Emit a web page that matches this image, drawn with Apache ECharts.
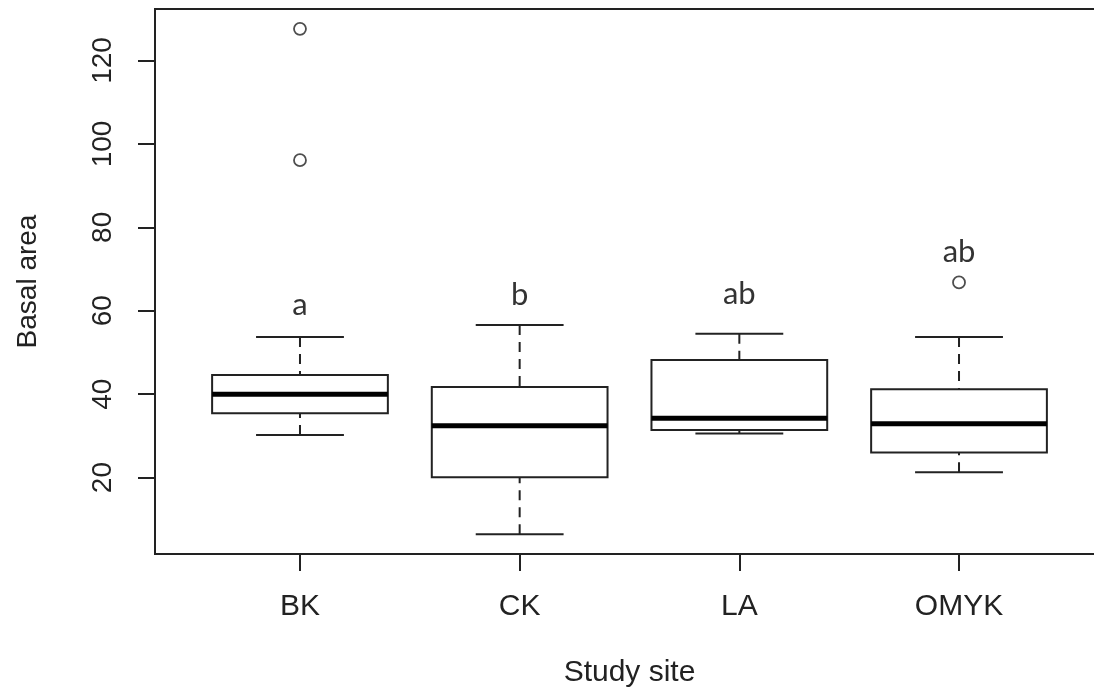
<!DOCTYPE html>
<html>
<head>
<meta charset="utf-8">
<script src="https://cdn.jsdelivr.net/npm/echarts@6/dist/echarts.min.js"></script>
<style>
  html, body { margin: 0; padding: 0; background: #fff; overflow: hidden; }
  #chart { width: 1094px; height: 690px; }
</style>
</head>
<body>
<div id="chart"></div>
<script>
// boxplot stats, one entry per study site
const sites = ['BK', 'CK', 'LA', 'OMYK']
const lowerWhisker = [30.2, 6.4, 30.6, 21.3]
const q1 = [35.4, 20.1, 31.4, 26.0]
const median = [40.0, 32.4, 34.2, 32.9]
const q3 = [44.6, 41.7, 48.2, 41.2]
const upperWhisker = [53.7, 56.6, 54.5, 53.7]
// outliers as [site index (1-based), value]
const outliers = [[1, 127.6], [1, 96.1], [4, 66.8]]
// significance letters and the height they sit at
const letters = ['a', 'b', 'ab', 'ab']
const letterY = [61.4, 63.8, 64.1, 74.1]
const yTicks = [20, 40, 60, 80, 100, 120]

const chart = echarts.init(document.getElementById('chart'))

const boxData = sites.map((s, i) => [i + 1, lowerWhisker[i], q1[i], median[i], q3[i], upperWhisker[i]])
const letterData = sites.map((s, i) => [i + 1, letterY[i], letters[i]])

const ink = '#222'

function renderBox(params, api) {
    const x = api.value(0)
    const lo = api.coord([x, api.value(1)])
    const b1 = api.coord([x, api.value(2)])
    const md = api.coord([x, api.value(3)])
    const b3 = api.coord([x, api.value(4)])
    const hi = api.coord([x, api.value(5)])
    const unit = api.size([1, 0])[0]
    const half = unit * 0.4
    const cap = unit * 0.2
    const cx = lo[0]
    const thin = { stroke: ink, lineWidth: 2, fill: null }
    const dash = { stroke: ink, lineWidth: 2, lineDash: [10, 7] }
    return {
        type: 'group',
        children: [
            // whiskers, drawn from the cap toward the box
            { type: 'line', shape: { x1: cx, y1: hi[1], x2: cx, y2: b3[1] }, style: dash },
            { type: 'line', shape: { x1: cx, y1: lo[1], x2: cx, y2: b1[1] }, style: dash },
            { type: 'line', shape: { x1: cx - cap, y1: hi[1], x2: cx + cap, y2: hi[1] }, style: thin },
            { type: 'line', shape: { x1: cx - cap, y1: lo[1], x2: cx + cap, y2: lo[1] }, style: thin },
            {
                type: 'rect',
                shape: { x: cx - half, y: b3[1], width: half * 2, height: b1[1] - b3[1] },
                style: { stroke: ink, lineWidth: 2, fill: '#fff' }
            },
            { type: 'line', shape: { x1: cx - half, y1: md[1], x2: cx + half, y2: md[1] }, style: { stroke: '#000', lineWidth: 5 } }
        ]
    }
}

chart.setOption({
    animation: false,
    backgroundColor: '#fff',
    grid: {
        left: 155,
        top: 9,
        width: 949,
        bottom: 136,
        outerBoundsMode: 'none',
        show: true,
        borderColor: ink,
        borderWidth: 2,
        backgroundColor: 'transparent'
    },
    xAxis: {
        type: 'value',
        min: 0.34,
        max: 4.66,
        name: 'Study site',
        nameLocation: 'middle',
        nameGap: 104,
        nameTextStyle: { fontFamily: 'Liberation Sans', fontSize: 30, color: ink },
        splitLine: { show: false },
        axisLine: { show: true, lineStyle: { color: ink, width: 2 } },
        axisTick: { show: true, length: 17, customValues: [1, 2, 3, 4], lineStyle: { color: ink, width: 2 } },
        axisLabel: {
            customValues: [1, 2, 3, 4],
            formatter: v => sites[Math.round(v) - 1],
            margin: 38,
            fontFamily: 'Liberation Sans',
            fontSize: 30,
            color: ink
        }
    },
    yAxis: {
        type: 'value',
        min: 1.68,
        max: 132.35,
        name: 'Basal area',
        nameLocation: 'middle',
        nameGap: 113,
        nameTextStyle: { fontFamily: 'Liberation Sans', fontSize: 28, color: ink },
        splitLine: { show: false },
        axisLine: { show: true, lineStyle: { color: ink, width: 2 } },
        axisTick: { show: true, length: 17, customValues: yTicks, lineStyle: { color: ink, width: 2 } },
        axisLabel: {
            customValues: yTicks,
            rotate: 90,
            margin: 38,
            fontFamily: 'Liberation Sans',
            fontSize: 28,
            color: ink
        }
    },
    series: [
        {
            type: 'custom',
            renderItem: renderBox,
            data: boxData,
            encode: { x: 0, y: [1, 2, 3, 4, 5] },
            z: 2
        },
        {
            type: 'scatter',
            data: outliers,
            symbol: 'circle',
            symbolSize: 12,
            itemStyle: { color: '#fff', borderColor: ink, borderWidth: 1.8 },
            z: 3
        },
        {
            type: 'scatter',
            data: letterData,
            symbolSize: 0,
            label: {
                show: true,
                position: 'inside',
                formatter: p => p.data[2],
                fontFamily: 'Lato',
                fontSize: 31,
                color: '#000'
            },
            z: 4
        }
    ]
})
</script>
</body>
</html>
